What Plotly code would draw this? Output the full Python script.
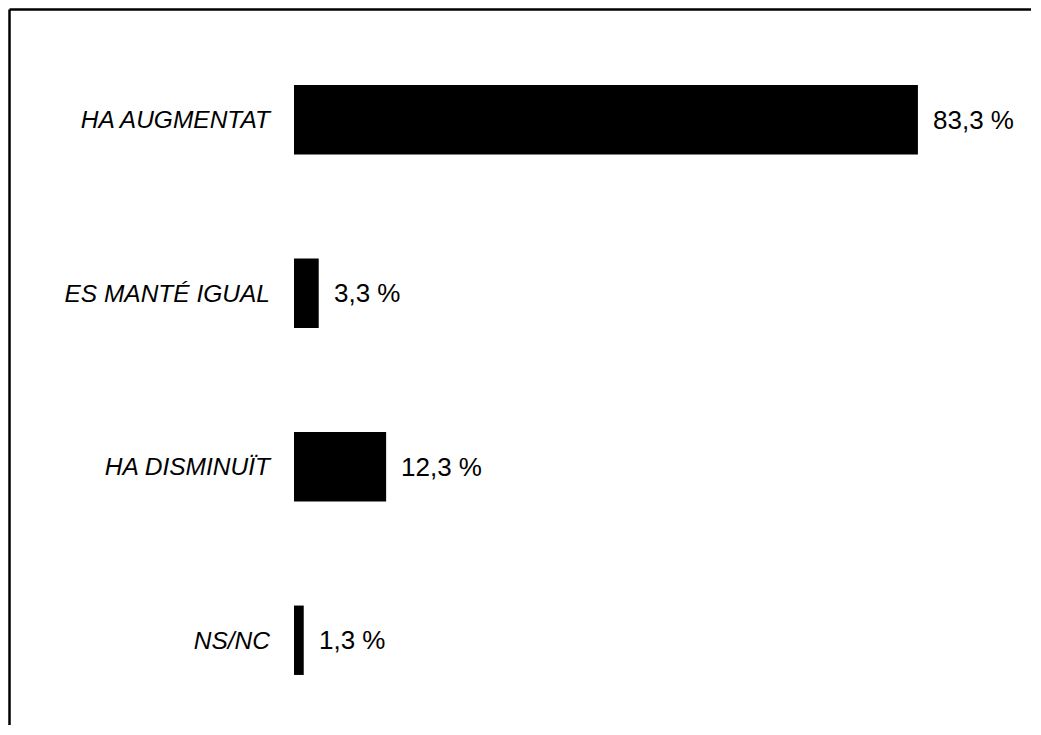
import plotly.graph_objects as go

categories = ["HA AUGMENTAT", "ES MANTÉ IGUAL", "HA DISMINUÏT", "NS/NC"]
values = [83.3, 3.3, 12.3, 1.3]
value_labels = ["83,3 %", "3,3 %", "12,3 %", "1,3 %"]

# page body has an 8px margin, so the figure is sized to stay inside the window
W, H = 1023, 717
ML, MR, MT, MB = 286, 37, 25, 0
plot_w = W - ML - MR
plot_h = H - MT - MB
px_per_unit = 7.49
x_max = plot_w / px_per_unit
px_per_cat = 173.5
y_bottom = -0.5 + plot_h / px_per_cat

FONT = "Liberation Sans, Arial, sans-serif"

fig = go.Figure()
fig.add_trace(go.Bar(
    y=categories, x=values, orientation="h",
    marker=dict(color="black", line=dict(width=0)),
    width=0.40, hoverinfo="skip"
))

for c, v, t in zip(categories, values, value_labels):
    fig.add_annotation(x=v, y=c, text=t, showarrow=False, xanchor="left",
                       xshift=13, font=dict(family=FONT, size=26, color="black"))

# frame: top and left edges visible in the reference
fx = (1.5 - ML) / plot_w
fy = 1 + (MT - 1.5) / plot_h
fig.add_shape(type="line", xref="paper", yref="paper",
              x0=fx, x1=(W - ML) / plot_w, y0=fy, y1=fy,
              line=dict(color="black", width=2.5), layer="above")
fig.add_shape(type="line", xref="paper", yref="paper",
              x0=fx, x1=fx, y0=0, y1=fy,
              line=dict(color="black", width=2.5), layer="above")

fig.update_layout(
    width=W, height=H,
    margin=dict(l=ML, r=MR, t=MT, b=MB),
    paper_bgcolor="white", plot_bgcolor="white",
    showlegend=False,
    xaxis=dict(range=[0, x_max], visible=False, showgrid=False, zeroline=False, fixedrange=True),
    yaxis=dict(categoryorder="array", categoryarray=categories, autorange=False,
               range=[y_bottom, -0.5], showgrid=False, zeroline=False, showline=False,
               ticks="", ticklabelstandoff=23,
               tickfont=dict(family=FONT, size=24.5, color="black", style="italic")),
)

fig.write_html("out.html")
